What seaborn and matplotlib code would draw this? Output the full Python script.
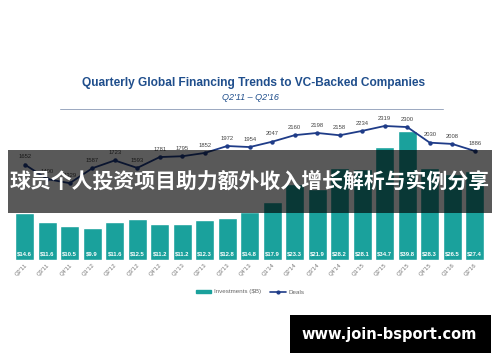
import matplotlib.pyplot as plt
import seaborn as sns
import pandas as pd
from matplotlib.patches import Patch, Rectangle
from matplotlib.lines import Line2D

quarters = ["Q2'11", "Q3'11", "Q4'11", "Q1'12", "Q2'12", "Q3'12", "Q4'12",
            "Q1'13", "Q2'13", "Q3'13", "Q4'13", "Q1'14", "Q2'14", "Q3'14",
            "Q4'14", "Q1'15", "Q2'15", "Q3'15", "Q4'15", "Q1'16", "Q2'16"]
investments = [14.6, 11.6, 10.5, 9.9, 11.6, 12.5, 11.2, 11.2, 12.3, 12.8, 14.8,
               17.9, 23.3, 21.9, 28.2, 28.1, 34.7, 39.8, 28.3, 26.5, 27.4]
deals = [1652, 1400, 1329, 1587, 1723, 1593, 1781, 1795, 1852, 1972, 1954,
         2047, 2160, 2198, 2158, 2234, 2319, 2300, 2030, 2008, 1886]

TEAL = "#1aa19c"
NAVY = "#1f3c88"

sns.set_style("white")
plt.rcParams['font.family'] = ['Liberation Sans', 'DejaVu Sans']

df = pd.DataFrame({"quarter": quarters, "investments": investments, "deals": deals})

fig = plt.figure(figsize=(5, 3.62), dpi=100)
ax = fig.add_axes([0.027, 0.2818, 0.945, 0.406])

sns.barplot(data=df, x="quarter", y="investments", color=TEAL, saturation=1,
            width=0.84, ax=ax)
for i, v in enumerate(investments):
    ax.text(i, 1.85, f"${v}", ha='center', va='center', color='white',
            fontsize=4.2, fontweight='bold')
ax.set_ylim(0, 45.2)

ax2 = ax.twinx()
sns.pointplot(data=df, x="quarter", y="deals", color=NAVY, markers='o',
              markersize=2.2, linewidth=1.3, ax=ax2)
for i, d in enumerate(deals):
    ax2.text(i, d + 135, str(d), ha='center', va='center', color='#444444',
             fontsize=4.2)
ax2.set_ylim(0, 2543)
ax.set_xlim(-0.5, len(quarters) - 0.5)
ax2.set_xlim(-0.5, len(quarters) - 0.5)

for a in (ax, ax2):
    a.set_yticks([])
    a.set_ylabel("")
    a.set_xlabel("")
    for s in a.spines.values():
        s.set_visible(False)
ax.tick_params(axis='x', length=0, pad=2)
ax.set_xticks(range(len(quarters)))
ax.set_xticklabels(quarters, rotation=45, ha='right', rotation_mode='anchor',
                   fontsize=4.2, color='#777777')

# title block
fig.text(0.508, 1 - 83 / 362, "Quarterly Global Financing Trends to VC-Backed Companies",
         ha='center', va='center', fontsize=8.6, fontweight='bold', color='#1f4e8c')
fig.text(0.5, 1 - 98 / 362, "Q2'11 \u2013 Q2'16", ha='center', va='center',
         fontsize=6.5, style='italic', color='#1f4e8c')
fig.add_artist(Line2D([60 / 500, 443 / 500], [1 - 109 / 362] * 2,
                      color='#9aa8c0', linewidth=0.7))

# legend
handles = [Patch(color=TEAL, label="Investments ($B)"),
           Line2D([], [], color=NAVY, marker='o', markersize=2, linewidth=1.2, label="Deals")]
fig.legend(handles=handles, loc='center', bbox_to_anchor=(0.5, 1 - 292 / 362),
           ncol=2, frameon=False, fontsize=4.5, handlelength=2.5, handleheight=0.5,
           columnspacing=1.5, handletextpad=0.4, labelcolor='#666666')

# overlay banner
fig.add_artist(Rectangle((8 / 500, 1 - 213 / 362), 484 / 500, 63 / 362,
                         transform=fig.transFigure, facecolor='black', alpha=0.65,
                         edgecolor='none', zorder=10))
fig.text(0.5, 1 - 181.5 / 362, "球员个人投资项目助力额外收入增长解析与实例分享",
         ha='center', va='center', fontsize=15, fontweight='bold', color='white',
         family=['Noto Sans CJK SC', 'DejaVu Sans'], zorder=11)

# watermark
fig.add_artist(Rectangle((290 / 500, 1 - 353 / 362), 201 / 500, 38 / 362,
                         transform=fig.transFigure, facecolor='black',
                         edgecolor='none', zorder=10))
fig.text(389.5 / 500, 1 - 334 / 362, "www.join-bsport.com", ha='center', va='center',
         fontsize=10.5, fontweight='bold', color='white',
         family=['DejaVu Sans'], zorder=11)

fig.savefig("out.png", dpi=100)
